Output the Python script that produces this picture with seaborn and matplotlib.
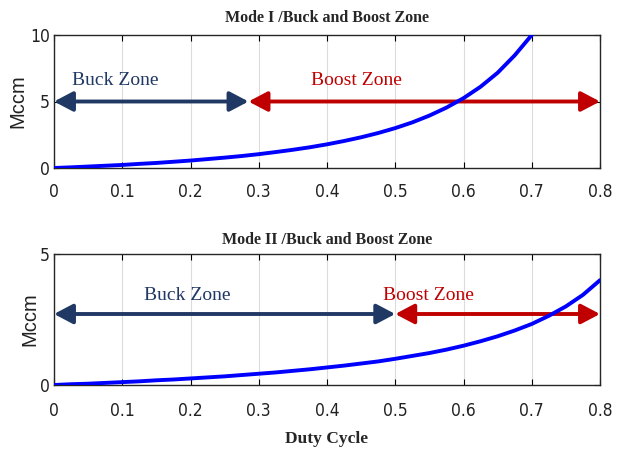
import matplotlib
matplotlib.use("Agg")
import matplotlib.pyplot as plt
import seaborn as sns
import pandas as pd
from matplotlib import font_manager
from matplotlib.font_manager import FontProperties

sns.set_theme(style="white")

# ---- data ----
duty_top = [0.0, 0.025, 0.05, 0.075, 0.1, 0.125, 0.15, 0.175, 0.2, 0.225, 0.25, 0.275,
            0.3, 0.325, 0.35, 0.375, 0.4, 0.425, 0.45, 0.475, 0.5, 0.525, 0.55, 0.575,
            0.6, 0.625, 0.65, 0.675, 0.7]
mccm_top = [0.0, 0.05, 0.11, 0.17, 0.23, 0.31, 0.38, 0.47, 0.56, 0.67, 0.78, 0.90,
            1.04, 1.20, 1.37, 1.56, 1.78, 2.03, 2.31, 2.63, 3.0, 3.43, 3.94, 4.54,
            5.25, 6.11, 7.16, 8.47, 10.0]
duty_bot = [0.0, 0.025, 0.05, 0.075, 0.1, 0.125, 0.15, 0.175, 0.2, 0.225, 0.25, 0.275,
            0.3, 0.325, 0.35, 0.375, 0.4, 0.425, 0.45, 0.475, 0.5, 0.525, 0.55, 0.575,
            0.6, 0.625, 0.65, 0.675, 0.7, 0.725, 0.75, 0.775, 0.8]
mccm_bot = [0.0, 0.03, 0.05, 0.08, 0.11, 0.14, 0.18, 0.21, 0.25, 0.29, 0.33, 0.38,
            0.43, 0.48, 0.54, 0.60, 0.67, 0.74, 0.82, 0.90, 1.0, 1.11, 1.22, 1.35,
            1.5, 1.67, 1.86, 2.08, 2.33, 2.64, 3.0, 3.44, 4.0]
titles = ["Mode I /Buck and Boost Zone", "Mode II /Buck and Boost Zone"]
zone_labels = ["Buck Zone", "Boost Zone"]
boundary = [0.285, 0.5]
arrow_y = [5.0, 2.71]
buck_text = [(0.09, 6.6), (0.195, 3.4)]
boost_text = [(0.443, 6.6), (0.549, 3.4)]
ylims = [10, 5]
yticks = [[0, 5, 10], [0, 5]]
xticks = [0, 0.1, 0.2, 0.3, 0.4, 0.5, 0.6, 0.7, 0.8]

# find a condensed sans font if one is installed
cand = None
prefs = ["LiberationSansNarrow-Regular", "DejaVuSansCondensed.ttf", "RobotoCondensed",
         "OpenSans_Condensed", "OpenSansCondensed", "Narrow", "Condensed"]
fl = [f for f in font_manager.fontManager.ttflist]
for p in prefs:
    for f in fl:
        fn = f.fname.replace("\\", "/").split("/")[-1]
        if p.lower() in fn.lower() and "bold" not in fn.lower() and "italic" not in fn.lower() \
                and "oblique" not in fn.lower():
            cand = f.fname
            break
    if cand:
        break
if cand:
    tick_fp = FontProperties(fname=cand, size=12.5)
else:
    tick_fp = FontProperties(family="Liberation Sans", size=11)

serif = "Liberation Serif"
buck_color = "#1F3864"
boost_color = "#C00000"

fig = plt.figure(figsize=(6.2, 4.49), dpi=100)
W, H = 620, 449
boxes = [(54, 35, 600, 168), (54, 254, 600, 385)]
axes = []
for (l, t, r, b) in boxes:
    axes.append(fig.add_axes([l / W, 1 - b / H, (r - l) / W, (b - t) / H]))

data = [pd.DataFrame({"D": duty_top, "M": mccm_top}), pd.DataFrame({"D": duty_bot, "M": mccm_bot})]
title_pads = [9, 7]
xpads = [10.5, 12]
ylabel_x = [-0.049, -0.026]

for i, ax in enumerate(axes):
    ax.set_xlim(0, 0.8)
    ax.set_ylim(0, ylims[i])
    ax.grid(axis="x", color="#dcdcdc", linewidth=0.8)
    ax.grid(axis="y", visible=False)
    ax.tick_params(direction="in", length=4, width=0.8, color="black", top=True, right=True,
                   bottom=True, left=True, labelcolor="#222222")
    ax.tick_params(axis="x", pad=xpads[i])
    ax.tick_params(axis="y", pad=3)
    for s in ax.spines.values():
        s.set_color("#262626")
        s.set_linewidth(1.0)
    ap = "<|-|>,head_length=0.95,head_width=0.5"
    ax.annotate("", xy=(boundary[i], arrow_y[i]), xytext=(0, arrow_y[i]),
                arrowprops=dict(arrowstyle=ap, color=buck_color, lw=2.8, shrinkA=0, shrinkB=0))
    ax.annotate("", xy=(0.8, arrow_y[i]), xytext=(boundary[i], arrow_y[i]),
                arrowprops=dict(arrowstyle=ap, color=boost_color, lw=2.8, shrinkA=0, shrinkB=0))
    ax.text(buck_text[i][0], buck_text[i][1], zone_labels[0], color=buck_color,
            family=serif, fontsize=14, ha="center", va="center")
    ax.text(boost_text[i][0], boost_text[i][1], zone_labels[1], color=boost_color,
            family=serif, fontsize=14, ha="center", va="center")
    sns.lineplot(data=data[i], x="D", y="M", ax=ax, color="#0000FF", linewidth=2.8, zorder=5)
    ax.set_xticks(xticks)
    ax.set_xticklabels([f"{v:g}" for v in xticks], fontproperties=tick_fp)
    ax.set_yticks(yticks[i])
    ax.set_yticklabels([str(v) for v in yticks[i]], fontproperties=tick_fp)
    ax.set_title(titles[i], family=serif, fontweight="bold", fontsize=11.5, pad=title_pads[i])
    ax.set_ylabel("Mccm", family="Liberation Sans", fontsize=14.5, color="#222222")
    ax.yaxis.set_label_coords(ylabel_x[i], 0.5)
    ax.set_xlabel("")

axes[1].set_xlabel("Duty Cycle", family=serif, fontweight="bold", fontsize=12.5, labelpad=8)

fig.savefig("out.png", dpi=100, facecolor="white")
